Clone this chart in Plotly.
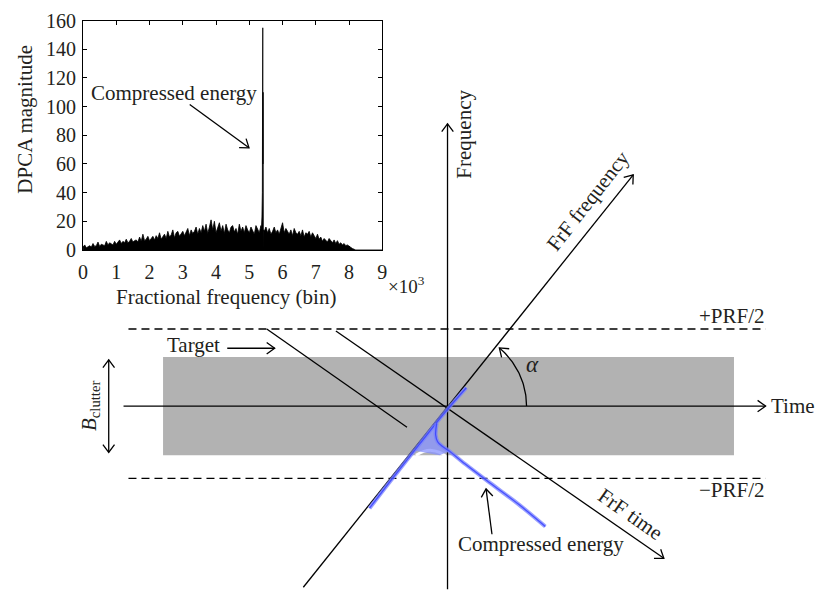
import math
import plotly.graph_objects as go

W, H = 818, 604
FONT = "Liberation Serif"
TXT = "#231f20"
FS = 21
TICK_FS = 20

# ---------------- Inset: DPCA magnitude spectrum ----------------
bin_step = 50
magnitude = [
    2, 3.5, 1.5, 2.5, 3, 2, 4.5, 2.5, 3, 5.5, 2.5, 4, 3.5, 3, 6, 3.5, 5, 4, 3.5, 6,
    4, 5.5, 7, 4.5, 6, 5, 7.5, 5, 6, 8, 5.5, 6.5, 7, 5.5, 9, 6, 11, 6.5, 7.5, 9.5,
    6.5, 8, 9.5, 7, 10, 8, 12, 7.5, 9, 11, 8, 13, 9, 10.5, 14, 8.5, 12, 13, 9.5, 11,
    13, 10, 12, 15, 10, 14, 11.5, 13, 16, 11, 15, 12, 17, 13, 18, 11.5, 16, 21, 14, 20,
    12, 15, 19, 13, 17, 11.5, 18, 14, 12, 16, 17, 12.5, 15, 11, 18, 13, 16, 12, 17, 14,
    12, 16, 13, 11, 17, 14, 12, 17, 14, 13, 16, 12, 15, 11, 13, 16, 12, 14, 11, 15,
    19, 12, 15, 13, 11, 14, 10, 15, 12, 11, 13, 10, 14, 9, 12, 11, 13, 9, 12, 10,
    8, 11, 7.5, 9, 6, 8, 7, 5.5, 8, 6, 5, 7, 4.5, 6.5, 4, 5, 3.5, 4.5, 3, 3.5,
    2.5, 2, 1, 0.5, 0,
]
bins = [i * bin_step for i in range(len(magnitude))]
peak_bins = [5365, 5380, 5392, 5400, 5405, 5410, 5415, 5422, 5432]
peak_mag = [15, 23, 40, 120, 155, 60, 110, 1, 14]

spec = {b: m for b, m in zip(bins, magnitude) if not (5360 <= b <= 5440)}
spec.update(dict(zip(peak_bins, peak_mag)))
spec_x = sorted(spec)
spec_y = [spec[b] for b in spec_x]
spec_x.append(9000)
spec_y.append(0)

x_ticks = list(range(0, 9001, 1000))
x_tick_labels = [str(v // 1000) for v in x_ticks]
y_ticks = list(range(0, 161, 20))

# ---------------- Diagram geometry (page pixels) ----------------
origin = (448, 410)
time_axis = ((120, 410), (770, 410))
freq_axis = ((448, 600), (448, 117))
frf_freq = ((302, 598), (636, 170))
frf_time = ((335, 332), (667, 568))
target_line = ((265, 330), (407, 432))
prf_x = (125, 770)
prf_plus_y, prf_minus_y = 330, 485
clutter_rect = (160, 359, 738, 461)
target_arrow = ((225, 350), (273, 350))
bclutter_arrow = ((105, 362), (105, 458))
ce_arrow = ((493, 543), (487, 496))
inset_ce_arrow = ((187, 97), (247, 142))
alpha_radius, alpha_deg = 80, 49

blue_freq_x = [369, 390, 420, 445, 467]
blue_freq_y = [516, 488, 449, 417, 391]
blue_branch_x = [437, 436, 438, 443, 450, 462, 490, 520, 547]
blue_branch_y = [428, 440, 447, 452, 457, 467, 489, 512, 535]
blue_fill_x = [433, 437, 436, 438, 443, 450, 440, 414, 433]
blue_fill_y = [430, 428, 440, 447, 452, 457, 461, 456, 430]
white_fringe_x = [416, 424, 432, 440, 446]
white_fringe_y = [461, 457, 456, 458, 462]

labels = [
    # text, x, y, angle, xanchor, size
    ("Compressed energy", 171, 85, 0, "center", FS),
    ("Frequency", 465, 128, -90, "center", FS),
    ("FrF frequency", 590, 197, -52, "center", FS),
    ("FrF time", 633, 522, 35, "center", FS),
    ("+PRF/2", 771, 317, 0, "right", FS),
    ("\u2212PRF/2", 771, 497, 0, "right", FS),
    ("Target", 191, 347, 0, "center", FS),
    ("Time", 773, 410, 0, "left", FS),
    ("<i>\u03b1</i>", 534, 367, 0, "center", FS + 2),
    ("<i>B</i><sub>clutter</sub>", 86, 410, -90, "center", FS),
    ("Compressed energy", 543, 553, 0, "center", FS),
    ("Fractional frequency (bin)", 224, 297, 0, "center", FS),
    ("DPCA magnitude", 20, 112, -90, "center", FS),
    ("\u00d710<sup>3</sup>", 386, 284, 0, "left", FS - 2),
]

fig = go.Figure()

fig.add_trace(go.Scatter(
    x=spec_x, y=spec_y, mode="lines", line=dict(color="black", width=0.8),
    fill="tozeroy", fillcolor="black", xaxis="x", yaxis="y",
    hoverinfo="skip", showlegend=False))

shapes = []
LW = 1.3


def line(p0, p1, dash=None, color="black", width=LW):
    d = dict(type="line", xref="x2", yref="y2", x0=p0[0], y0=p0[1], x1=p1[0], y1=p1[1],
             line=dict(color=color, width=width), layer="below")
    if dash:
        d["line"]["dash"] = dash
    shapes.append(d)


def head(tip, dx, dy, L=10, ang=36):
    n = math.hypot(dx, dy)
    vx, vy = -dx / n, -dy / n
    pts = []
    for s in (1, -1):
        a = math.radians(ang * s)
        px = vx * math.cos(a) - vy * math.sin(a)
        py = vx * math.sin(a) + vy * math.cos(a)
        pts.append((tip[0] + L * px, tip[1] + L * py))
    shapes.append(dict(type="path", xref="x2", yref="y2",
                       path=f"M {pts[0][0]},{pts[0][1]} L {tip[0]},{tip[1]} L {pts[1][0]},{pts[1][1]}",
                       line=dict(color="black", width=LW), layer="below"))


def arrow(p0, p1, both=False):
    line(p0, p1)
    head(p1, p1[0] - p0[0], p1[1] - p0[1])
    if both:
        head(p0, p0[0] - p1[0], p0[1] - p1[1])


# gray clutter band
shapes.append(dict(type="rect", xref="x2", yref="y2", x0=clutter_rect[0], y0=clutter_rect[1],
                   x1=clutter_rect[2], y1=clutter_rect[3], fillcolor="#b2b2b2",
                   line=dict(width=0), layer="below"))
line((prf_x[0], prf_plus_y), (prf_x[1], prf_plus_y), dash="8px,5px")
line((prf_x[0], prf_minus_y), (prf_x[1], prf_minus_y), dash="8px,5px")
arrow(*time_axis)
arrow(*freq_axis)
arrow(*frf_freq)
arrow(*frf_time)
line(*target_line)
arrow(*target_arrow)
arrow(*bclutter_arrow, both=True)
arrow(*ce_arrow)
arrow(*inset_ce_arrow)

# alpha arc
n_arc = 40
arc_t = [math.radians(alpha_deg * i / (n_arc - 1)) for i in range(n_arc)]
arc_x = [origin[0] + alpha_radius * math.cos(t) for t in arc_t]
arc_y = [origin[1] - alpha_radius * math.sin(t) for t in arc_t]
fig.add_trace(go.Scatter(x=arc_x, y=arc_y, mode="lines", line=dict(color="black", width=LW),
                         xaxis="x2", yaxis="y2", hoverinfo="skip", showlegend=False))
ta = arc_t[-1]
head((arc_x[-1], arc_y[-1]), -math.sin(ta), -math.cos(ta))

# compressed energy (blue)
fig.add_trace(go.Scatter(x=white_fringe_x, y=white_fringe_y, mode="lines",
                         line=dict(color="white", width=3, shape="spline"),
                         xaxis="x2", yaxis="y2", hoverinfo="skip", showlegend=False))
fig.add_trace(go.Scatter(x=blue_fill_x, y=blue_fill_y, mode="lines", fill="toself",
                         fillcolor="rgba(135,145,255,0.75)", line=dict(width=0),
                         xaxis="x2", yaxis="y2", hoverinfo="skip", showlegend=False))
for xs, ys in ((blue_freq_x, blue_freq_y), (blue_branch_x, blue_branch_y)):
    fig.add_trace(go.Scatter(x=xs, y=ys, mode="lines",
                             line=dict(color="rgba(120,130,255,0.75)", width=4, shape="spline"),
                             xaxis="x2", yaxis="y2", hoverinfo="skip", showlegend=False))
    fig.add_trace(go.Scatter(x=xs, y=ys, mode="lines",
                             line=dict(color="rgba(55,65,255,0.85)", width=1.3, shape="spline"),
                             xaxis="x2", yaxis="y2", hoverinfo="skip", showlegend=False))

annotations = []
for text, x, y, ang, xa, size in labels:
    annotations.append(dict(text=text, x=x, y=y, xref="x2", yref="y2", showarrow=False,
                            textangle=ang, xanchor=xa, yanchor="middle",
                            font=dict(family=FONT, size=size, color=TXT)))

axis_common = dict(showline=True, linecolor="black", linewidth=1, mirror="ticks",
                   ticks="inside", ticklen=4, tickcolor="black", showgrid=False, zeroline=False,
                   ticklabeloverflow="allow",
                   tickfont=dict(family=FONT, size=TICK_FS, color=TXT))

fig.update_layout(
    width=W, height=H, margin=dict(l=0, r=0, t=0, b=0),
    paper_bgcolor="white", plot_bgcolor="rgba(0,0,0,0)",
    showlegend=False,
    xaxis=dict(domain=[79 / W, 382 / W], range=[0, 9000], tickvals=x_ticks,
               ticktext=x_tick_labels, anchor="y", ticklabelstandoff=4, **axis_common),
    yaxis=dict(domain=[1 - 248 / H, 1 - 10 / H], range=[0, 160], tickvals=y_ticks,
               anchor="x", ticklabelstandoff=2, **axis_common),
    xaxis2=dict(domain=[0, 1], range=[0, W], visible=False, anchor="y2"),
    yaxis2=dict(domain=[0, 1], range=[H, 0], visible=False, anchor="x2"),
    shapes=shapes, annotations=annotations,
)

fig.write_html("out.html")
